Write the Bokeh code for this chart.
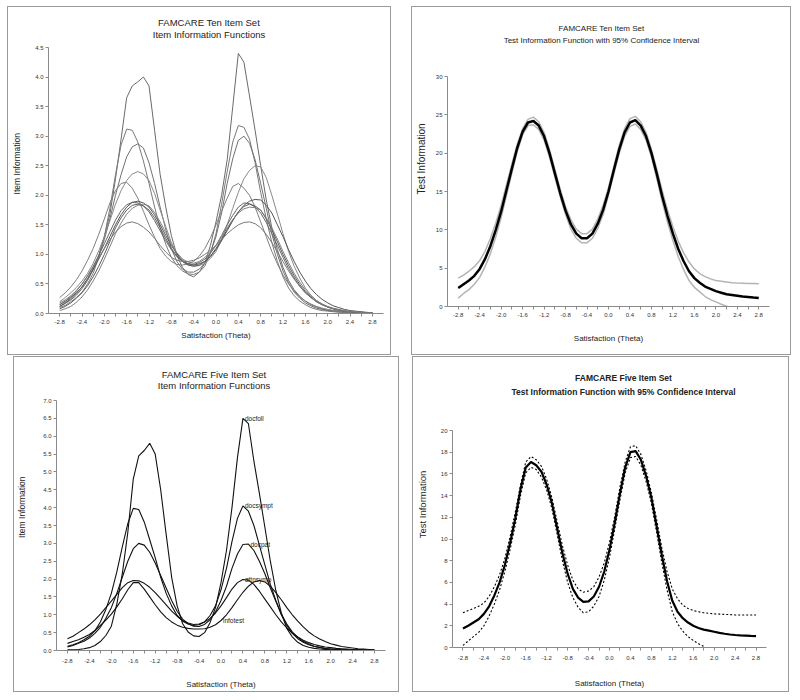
from bokeh.plotting import figure
from bokeh.layouts import row, column, Spacer
from bokeh.models import FixedTicker, Range1d, NumeralTickFormatter, Label
from bokeh.core.properties import value
from bokeh.embed import file_html
from bokeh.resources import INLINE

NAN = float("nan")

# theta grid (0.1 steps)
theta = [-2.8, -2.7, -2.6, -2.5, -2.4, -2.3, -2.2, -2.1, -2.0, -1.9, -1.8, -1.7, -1.6, -1.5, -1.4,
         -1.3, -1.2, -1.1, -1.0, -0.9, -0.8, -0.7, -0.6, -0.5, -0.4, -0.3, -0.2, -0.1, 0.0,
         0.1, 0.2, 0.3, 0.4, 0.5, 0.6, 0.7, 0.8, 0.9, 1.0, 1.1, 1.2, 1.3, 1.4, 1.5, 1.6,
         1.7, 1.8, 1.9, 2.0, 2.1, 2.2, 2.3, 2.4, 2.5, 2.6, 2.7, 2.8]
x_ticks = [-2.8, -2.4, -2.0, -1.6, -1.2, -0.8, -0.4, 0.0, 0.4, 0.8, 1.2, 1.6, 2.0, 2.4, 2.8]
x_minor_ticks = [-2.6, -2.2, -1.8, -1.4, -1.0, -0.6, -0.2, 0.2, 0.6, 1.0, 1.4, 1.8, 2.2, 2.6]

# ---- Panel 1: ten item information functions
item_a = [0.12,0.17,0.23,0.31,0.42,0.56,0.74,0.98,1.3,1.68,
          2.28,2.95,3.65,3.85,3.92,4.0,3.85,3.1,2.35,1.8,
          1.32,0.98,0.78,0.66,0.62,0.7,0.85,1.15,1.55,2.0,
          2.6,3.5,4.4,4.25,3.68,3.1,2.5,1.92,1.45,1.08,
          0.78,0.56,0.4,0.29,0.21,0.15,0.11,0.08,0.06,0.05,
          0.04,0.03,0.02,0.02,0.01,0.01,0.01]
item_b = [0.1,0.14,0.2,0.27,0.36,0.5,0.68,0.95,1.3,1.78,
          2.35,2.85,3.12,3.1,2.9,2.58,2.2,1.8,1.45,1.17,
          0.95,0.81,0.72,0.67,0.66,0.7,0.8,1.02,1.35,1.85,
          2.4,2.9,3.18,3.15,2.95,2.55,2.05,1.6,1.2,0.88,
          0.62,0.43,0.3,0.21,0.15,0.1,0.07,0.05,0.04,0.03,
          0.02,0.02,0.01,0.01,0.01,0.0,0.0]
item_c = [0.15,0.2,0.27,0.35,0.45,0.58,0.75,0.98,1.25,1.6,
          2.0,2.35,2.65,2.82,2.87,2.8,2.55,2.2,1.8,1.42,
          1.1,0.88,0.75,0.7,0.7,0.75,0.85,1.03,1.3,1.7,
          2.2,2.62,2.93,3.0,2.88,2.6,2.2,1.78,1.35,1.0,
          0.72,0.52,0.36,0.26,0.18,0.13,0.09,0.07,0.05,0.04,
          0.03,0.02,0.02,0.01,0.01,0.01,0.01]
item_d = [0.2,0.27,0.35,0.44,0.55,0.68,0.85,1.06,1.3,1.57,
          1.85,2.08,2.25,2.36,2.4,2.36,2.25,2.03,1.75,1.47,
          1.2,1.0,0.88,0.82,0.8,0.81,0.85,0.93,1.05,1.25,
          1.5,1.78,2.05,2.28,2.42,2.5,2.48,2.3,2.0,1.68,
          1.35,1.05,0.8,0.6,0.43,0.31,0.22,0.16,0.11,0.08,
          0.06,0.04,0.03,0.02,0.02,0.01,0.01]
item_e = [0.27,0.35,0.45,0.57,0.72,0.9,1.1,1.34,1.6,1.87,
          2.08,2.2,2.22,2.12,1.95,1.73,1.5,1.29,1.1,0.97,
          0.88,0.83,0.82,0.84,0.88,0.97,1.1,1.28,1.5,1.73,
          1.95,2.15,2.2,2.12,2.0,1.8,1.55,1.3,1.05,0.84,
          0.65,0.5,0.38,0.28,0.21,0.16,0.12,0.09,0.07,0.05,
          0.04,0.03,0.02,0.02,0.01,0.01,0.01]
item_f = [0.12,0.18,0.25,0.34,0.45,0.59,0.75,0.92,1.1,1.3,
          1.5,1.67,1.8,1.88,1.9,1.87,1.8,1.67,1.5,1.32,
          1.15,1.01,0.9,0.84,0.82,0.84,0.88,0.97,1.1,1.25,
          1.42,1.58,1.72,1.83,1.9,1.93,1.92,1.83,1.7,1.5,
          1.3,1.08,0.88,0.7,0.55,0.42,0.32,0.24,0.18,0.13,
          0.1,0.07,0.05,0.04,0.03,0.02,0.01]
item_g = [0.15,0.21,0.28,0.38,0.5,0.64,0.8,0.98,1.18,1.38,
          1.58,1.74,1.84,1.88,1.87,1.82,1.72,1.57,1.4,1.23,
          1.08,0.96,0.88,0.84,0.83,0.86,0.92,1.02,1.15,1.32,
          1.5,1.66,1.8,1.87,1.86,1.8,1.7,1.54,1.35,1.15,
          0.95,0.76,0.6,0.46,0.35,0.27,0.2,0.15,0.11,0.08,
          0.06,0.04,0.03,0.02,0.02,0.01,0.01]
item_h = [0.08,0.12,0.18,0.26,0.35,0.47,0.62,0.8,1.0,1.22,
          1.45,1.62,1.75,1.83,1.85,1.82,1.75,1.62,1.45,1.27,
          1.1,0.97,0.88,0.82,0.8,0.82,0.88,0.96,1.08,1.23,
          1.4,1.57,1.72,1.81,1.85,1.82,1.75,1.6,1.42,1.21,
          1.0,0.81,0.64,0.49,0.37,0.28,0.2,0.15,0.11,0.08,
          0.06,0.04,0.03,0.02,0.02,0.01,0.01]
item_i = [0.05,0.08,0.12,0.19,0.28,0.4,0.55,0.72,0.92,1.13,
          1.35,1.53,1.68,1.78,1.83,1.85,1.82,1.71,1.55,1.37,
          1.18,1.03,0.92,0.87,0.85,0.88,0.95,1.04,1.15,1.29,
          1.45,1.59,1.7,1.77,1.8,1.79,1.75,1.62,1.45,1.26,
          1.05,0.86,0.68,0.53,0.4,0.3,0.22,0.16,0.12,0.09,
          0.07,0.05,0.04,0.03,0.02,0.01,0.01]
item_j = [0.18,0.23,0.3,0.39,0.5,0.63,0.78,0.94,1.1,1.25,
          1.38,1.47,1.53,1.55,1.52,1.46,1.38,1.27,1.15,1.04,
          0.95,0.9,0.88,0.88,0.9,0.94,1.0,1.07,1.15,1.25,
          1.35,1.43,1.5,1.54,1.55,1.52,1.45,1.34,1.2,1.04,
          0.88,0.72,0.58,0.46,0.35,0.27,0.2,0.15,0.11,0.08,
          0.06,0.04,0.03,0.02,0.02,0.01,0.01]
ten_items = [item_a, item_b, item_c, item_d, item_e, item_f, item_g, item_h, item_i, item_j]

# ---- Panel 2: ten item test information with 95% CI
ten_tif = [2.4,2.9,3.4,4.0,4.9,6.2,7.9,10.0,12.4,15.2,18.0,20.7,22.8,24.0,24.2,23.6,22.2,20.0,17.4,14.8,
           12.5,10.7,9.5,8.9,8.9,9.5,10.8,12.6,15.0,17.8,20.5,22.7,24.0,24.3,23.6,22.2,20.0,17.3,14.4,11.8,
           9.5,7.5,5.9,4.6,3.7,3.1,2.6,2.3,2.0,1.8,1.6,1.5,1.4,1.3,1.25,1.17,1.1]
ten_upper = [3.7,4.1,4.6,5.2,6.0,7.2,8.9,10.9,13.2,15.9,18.6,21.2,23.2,24.4,24.7,24.1,22.7,20.5,17.9,15.3,
             13.0,11.3,10.1,9.5,9.5,10.1,11.4,13.2,15.5,18.3,21.0,23.2,24.5,24.8,24.1,22.7,20.5,17.9,15.1,12.6,
             10.4,8.5,7.0,5.8,4.9,4.3,3.9,3.6,3.4,3.3,3.2,3.1,3.05,3.03,3.0,3.0,2.98]
ten_lower = [1.1,1.7,2.2,2.9,3.8,5.2,6.9,9.1,11.6,14.5,17.4,20.2,22.4,23.6,23.7,23.1,21.7,19.5,16.9,14.3,
             12.0,10.1,8.9,8.3,8.3,8.9,10.2,12.0,14.5,17.3,20.0,22.2,23.5,23.8,23.1,21.7,19.5,16.7,13.7,11.0,
             8.6,6.5,4.8,3.4,2.5,1.9,1.3,0.9,0.6,0.3,0.05,-0.3,NAN,NAN,NAN,NAN,NAN]

# ---- Panel 3: five item information functions
five_names = ["docfoll", "docsympt", "docpat", "attnsymp", "infotest"]
docfoll  = [0.02,0.02,0.03,0.05,0.08,0.14,0.25,0.42,0.68,1.3,2.15,3.3,4.8,5.45,5.6,5.8,5.5,4.5,3.25,2.05,
            1.25,0.75,0.52,0.41,0.39,0.5,0.78,1.2,1.9,2.8,4.0,5.4,6.5,6.35,5.3,4.4,3.45,2.5,1.68,1.05,
            0.62,0.38,0.23,0.14,0.09,0.06,0.04,0.03,0.02,0.01,0.01,0.0,0.0,0.0,0.0,0.0,0.0]
docsympt = [0.12,0.16,0.22,0.3,0.4,0.55,0.8,1.15,1.6,2.2,2.9,3.55,3.98,3.95,3.6,3.1,2.6,2.05,1.6,1.25,
            0.98,0.82,0.74,0.7,0.72,0.8,0.98,1.25,1.7,2.3,3.05,3.7,4.05,3.9,3.5,2.95,2.4,1.85,1.4,1.0,
            0.7,0.48,0.33,0.23,0.16,0.11,0.08,0.05,0.04,0.03,0.02,0.02,0.01,0.01,0.01,0.0,0.0]
docpat   = [0.1,0.14,0.2,0.26,0.35,0.48,0.65,0.9,1.2,1.6,2.05,2.5,2.85,3.0,2.95,2.75,2.45,2.1,1.75,1.4,
            1.1,0.88,0.75,0.68,0.67,0.73,0.86,1.08,1.4,1.8,2.3,2.7,2.97,2.98,2.8,2.5,2.15,1.75,1.38,1.02,
            0.74,0.52,0.37,0.26,0.18,0.12,0.09,0.06,0.04,0.03,0.02,0.02,0.01,0.01,0.01,0.0,0.0]
attnsymp = [0.33,0.4,0.5,0.6,0.72,0.86,1.02,1.2,1.38,1.57,1.76,1.9,1.96,1.95,1.88,1.77,1.62,1.45,1.28,1.1,
            0.96,0.84,0.77,0.73,0.74,0.8,0.9,1.05,1.25,1.48,1.72,1.9,1.99,1.97,1.85,1.66,1.44,1.22,1.0,0.8,
            0.63,0.49,0.38,0.29,0.22,0.17,0.13,0.1,0.08,0.06,0.05,0.04,0.03,0.02,0.02,0.01,0.01]
infotest = [0.2,0.25,0.3,0.37,0.45,0.56,0.7,0.85,1.02,1.22,1.45,1.7,1.9,1.9,1.72,1.5,1.28,1.08,0.92,0.8,
            0.71,0.65,0.62,0.6,0.6,0.61,0.65,0.72,0.84,1.0,1.2,1.42,1.63,1.8,1.92,1.96,1.92,1.8,1.62,1.42,
            1.2,1.0,0.82,0.66,0.52,0.41,0.32,0.25,0.19,0.15,0.11,0.09,0.07,0.05,0.04,0.03,0.02]
five_items = [docfoll, docsympt, docpat, attnsymp, infotest]

# ---- Panel 4: five item test information with 95% CI
five_tif = [1.75,2.0,2.3,2.6,3.1,3.8,4.8,6.0,7.6,9.6,11.9,14.6,16.6,17.1,16.8,16.2,15.0,13.3,11.0,8.7,
            6.8,5.4,4.6,4.2,4.25,4.7,5.6,7.0,9.0,11.5,14.2,16.6,18.0,18.1,17.3,15.8,13.8,11.2,8.5,6.1,
            4.3,3.3,2.7,2.3,2.0,1.8,1.65,1.55,1.45,1.35,1.27,1.2,1.15,1.12,1.1,1.07,1.05]
five_upper = [3.2,3.4,3.6,3.8,4.1,4.7,5.6,6.7,8.2,10.2,12.5,15.0,17.1,17.6,17.3,16.7,15.5,13.8,11.6,9.4,
              7.6,6.2,5.4,5.1,5.2,5.6,6.5,7.8,9.7,12.1,14.8,17.1,18.5,18.6,17.8,16.3,14.3,11.8,9.2,7.0,
              5.4,4.5,3.9,3.6,3.4,3.3,3.2,3.15,3.1,3.08,3.05,3.03,3.0,3.0,3.0,3.0,3.0]
five_lower = [0.2,0.6,1.0,1.4,2.0,2.9,4.0,5.3,7.0,9.0,11.3,14.0,16.1,16.6,16.4,15.7,14.5,12.8,10.4,8.0,
              6.0,4.6,3.7,3.2,3.3,3.8,4.7,6.2,8.3,10.9,13.6,16.1,17.5,17.6,16.8,15.3,13.3,10.6,7.8,5.3,
              3.3,2.2,1.5,1.0,0.65,0.35,0.1,-0.2,NAN,NAN,NAN,NAN,NAN,NAN,NAN,NAN,NAN]

FONT = "Liberation Sans"
TXT = "#222222"
AX = "#8a8a8a"
TOP = 4


def make_fig(w, h, ymax, yticks, yfmt, lb, rb, tb, bb, titles, title_bold, title_size,
             title_dy, title_dx, ylabel, ylabel_size, ylabel_standoff, xlabel_size,
             xlabel_standoff, tick_standoff):
    # the frame is extended upwards so that the title lines sit inside it;
    # the y axis itself is bounded to [0, ymax]
    y_end = ymax + (tb - TOP) * ymax / float(h - tb - bb)
    p = figure(width=w, height=h, x_range=Range1d(-3.0, 3.0), y_range=Range1d(0, y_end),
               output_backend="svg", toolbar_location=None, title=None,
               min_border_left=lb, min_border_right=rb, min_border_top=TOP, min_border_bottom=bb)
    p.styles = {"outline": "1px solid #9a9a9a"}
    p.grid.visible = False
    p.outline_line_color = None
    p.background_fill_color = "white"
    p.border_fill_color = "white"
    style = "bold" if title_bold else "normal"
    for txt, dy in zip(titles, title_dy):
        p.add_layout(Label(x=0.0, y=ymax, x_offset=title_dx, y_offset=dy, text=txt,
                           text_align="center", text_baseline="middle", text_font=FONT,
                           text_font_size=title_size, text_font_style=style, text_color=TXT))
    xa = p.xaxis[0]
    xa.ticker = FixedTicker(ticks=x_ticks, minor_ticks=x_minor_ticks)
    xa.formatter = NumeralTickFormatter(format="0.0")
    ya = p.yaxis[0]
    ya.ticker = FixedTicker(ticks=yticks)
    ya.formatter = NumeralTickFormatter(format=yfmt)
    ya.bounds = (0, ymax)
    for ax in (xa, ya):
        ax.axis_line_color = AX
        ax.major_tick_line_color = AX
        ax.major_tick_in = 0
        ax.major_tick_out = 3
        ax.minor_tick_in = 0
        ax.minor_tick_out = 3
        ax.major_label_text_font = FONT
        ax.major_label_text_font_size = "6px"
        ax.major_label_text_color = "#333333"
        ax.axis_label_text_font = FONT
        ax.axis_label_text_font_style = "normal"
        ax.axis_label_text_color = TXT
    xa.major_label_standoff = tick_standoff
    ya.major_label_standoff = 2
    xa.minor_tick_line_color = AX
    ya.minor_tick_line_color = None
    xa.axis_label = "Satisfaction (Theta)"
    xa.axis_label_text_font_size = xlabel_size
    xa.axis_label_standoff = xlabel_standoff
    ya.axis_label = ylabel
    ya.axis_label_text_font_size = ylabel_size
    ya.axis_label_standoff = ylabel_standoff
    return p


# Panel 1
p1 = make_fig(382, 347, 4.5, [0, 0.5, 1.0, 1.5, 2.0, 2.5, 3.0, 3.5, 4.0, 4.5], "0.0",
              40, 7, 40, 41, ["FAMCARE Ten Item Set", "Item Information Functions"], False, "9.5px",
              [25.5, 13.5], -7, "Item  Information", "8.5px", 10, "8px", 4, 3)
grays = ["#6a6a6a", "#7a7a7a", "#707070", "#8a8a8a", "#7f7f7f", "#555555", "#666666", "#5c5c5c", "#808080", "#787878"]
for i, ys in enumerate(ten_items):
    p1.line(theta, ys, line_color=grays[i % len(grays)], line_width=1)

# Panel 2
p2 = make_fig(378, 347, 30, [0, 5, 10, 15, 20, 25, 30], "0",
              33, 21, 69, 48, ["FAMCARE Ten Item Set", "Test Information Function with 95% Confidence Interval"],
              False, "8px", [48.5, 36], -7, "Test Information", "10px", 6, "8px", 14, 3)
p2.line(theta, ten_upper, line_color="#b4b4b4", line_width=1.5)
p2.line(theta, ten_lower, line_color="#b4b4b4", line_width=1.5)
p2.line(theta, ten_tif, line_color="black", line_width=2.5)

# Panel 3
p3 = make_fig(384, 334, 7.0, [0, 0.5, 1.0, 1.5, 2.0, 2.5, 3.0, 3.5, 4.0, 4.5, 5.0, 5.5, 6.0, 6.5, 7.0], "0.0",
              40, 13, 43, 41, ["FAMCARE Five Item Set", "Item Information Functions"], False, "9.5px",
              [26.5, 15], -7, "Item  Information", "8.5px", 13, "8px", 14, 5)
for ys in five_items:
    p3.line(theta, ys, line_color="#111111", line_width=1.1)
# item labels: at right-hand peak for four items, at theta = 0 for infotest
lab_x, lab_y, lab_t = [], [], []
for name, ys in zip(five_names, five_items):
    if name == "infotest":
        k = theta.index(0.0)
    else:
        right = [(v, j) for j, v in enumerate(ys) if theta[j] > 0]
        k = max(right)[1]
    lab_x.append(theta[k])
    lab_y.append(ys[k])
    lab_t.append(name)
p3.text(x=lab_x, y=lab_y, text=lab_t, text_font=value(FONT), text_font_size="6.5px",
        text_color=TXT, text_baseline="middle", text_align="left", x_offset=2)

# Panel 4
p4 = make_fig(375, 334, 20, [0, 2, 4, 6, 8, 10, 12, 14, 16, 18, 20], "0",
              34, 22, 73, 44, ["FAMCARE Five Item Set", "Test Information Function with 95% Confidence Interval"],
              True, "8.5px", [53, 38.5], 14, "Test Information", "9.5px", 10, "8px", 16, 5)
p4.line(theta, five_upper, line_color="black", line_width=1.1, line_dash="2 2")
p4.line(theta, five_lower, line_color="black", line_width=1.1, line_dash="2 2")
p4.line(theta, five_tif, line_color="black", line_width=2.2)

layout = column(
    Spacer(height=7),
    row(Spacer(width=8), column(p1), Spacer(width=22), column(p2), Spacer(width=10)),
    Spacer(height=3),
    row(Spacer(width=14), column(p3), Spacer(width=15), column(p4), Spacer(width=12)),
)

open("out.html", "w").write(file_html(layout, INLINE))
